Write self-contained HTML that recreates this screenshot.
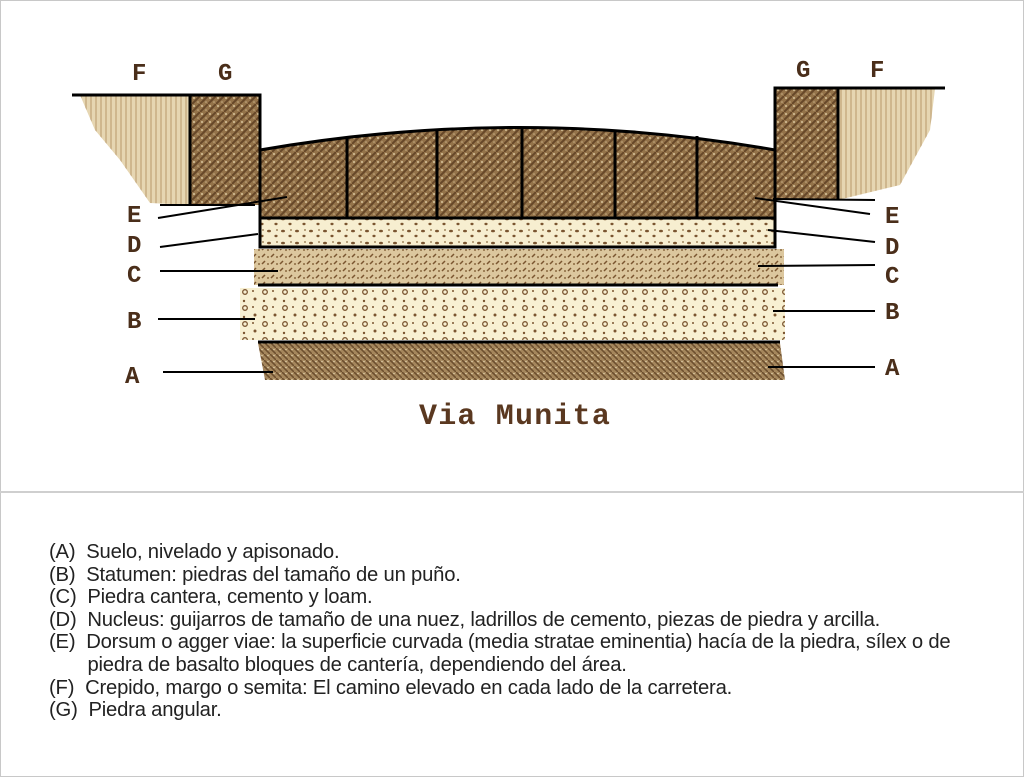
<!DOCTYPE html>
<html><head><meta charset="utf-8"><style>
body{margin:0;background:#fff;}
.wrap{position:relative;width:1024px;height:777px;overflow:hidden;background:#fff;}
.frame{position:absolute;left:0;top:0;width:1022px;height:775px;border:1px solid #c8c8c8;}
.div{position:absolute;left:0;top:491px;width:1024px;height:2px;background:#cfcfcf;}
.txt{position:absolute;left:49px;top:541px;font-family:"Liberation Sans",sans-serif;font-size:20px;color:#222;line-height:22.6px;transform:scaleX(1.012);transform-origin:0 0;white-space:nowrap;letter-spacing:-0.2px;}
</style></head><body><div class="wrap">
<svg width="1024" height="490" style="position:absolute;left:0;top:0" xmlns="http://www.w3.org/2000/svg">
<defs>
<pattern id="dark" width="8" height="8" patternUnits="userSpaceOnUse">
<rect width="8" height="8" fill="#94734a"/>
<path d="M0 8 L8 0" stroke="#664729" stroke-width="2"/>
<circle cx="2" cy="2" r="1" fill="#d8c49c"/>
<circle cx="6" cy="6" r="0.8" fill="#c8b088"/>
</pattern>
<pattern id="fpat" width="5" height="6" patternUnits="userSpaceOnUse">
<rect width="5" height="6" fill="#e6d6b2"/>
<path d="M1 0 V6" stroke="#b8986a" stroke-width="1"/>
</pattern>
<pattern id="dots" width="14" height="12" patternUnits="userSpaceOnUse">
<rect width="14" height="12" fill="#f7eed0"/>
<ellipse cx="3" cy="3" rx="2" ry="1.3" fill="#7a5530"/>
<ellipse cx="10" cy="8" rx="1.6" ry="1.2" fill="#7a5530"/>
<circle cx="11" cy="2" r="0.9" fill="#8a6a40"/>
</pattern>
<pattern id="bdots" width="20" height="16" patternUnits="userSpaceOnUse">
<rect width="20" height="16" fill="#f8f0d2"/>
<circle cx="5" cy="4" r="2.3" fill="none" stroke="#7a5530" stroke-width="1.3"/>
<circle cx="15" cy="11" r="1.5" fill="#7a5530"/>
<circle cx="13" cy="3" r="1" fill="#7a5530"/>
<circle cx="4" cy="13" r="1.2" fill="#7a5530"/>
</pattern>
<pattern id="cpat" width="9" height="7" patternUnits="userSpaceOnUse">
<rect width="9" height="7" fill="#dcc79e"/>
<path d="M1 5 L4 2" stroke="#7a5530" stroke-width="1.5"/>
<circle cx="7" cy="5" r="1" fill="#8a6a40"/>
</pattern>
<pattern id="apat" width="6" height="6" patternUnits="userSpaceOnUse">
<rect width="6" height="6" fill="#a5865c"/>
<path d="M0 0 L6 6" stroke="#6d4f2f" stroke-width="1.6"/>
<circle cx="4" cy="1.5" r="0.8" fill="#e0cfaa"/>
</pattern>
</defs>
<path d="M80 95 L190 95 L190 205 L150 203 L120 160 L95 130 Z" fill="url(#fpat)"/>
<rect x="190" y="95" width="70" height="110" fill="url(#dark)"/>
<path d="M838 89 L935 89 L930 130 L900 185 L838 200 Z" fill="url(#fpat)"/>
<rect x="775" y="89" width="63" height="111" fill="url(#dark)"/>
<path d="M260 150 Q520 105 775 150 L775 218 L260 218 Z" fill="url(#dark)"/>
<rect x="260" y="219" width="515" height="28" fill="url(#dots)"/>
<rect x="254" y="249" width="530" height="36" fill="url(#cpat)"/>
<rect x="240" y="288" width="545" height="52" fill="url(#bdots)"/>
<path d="M258 343 L780 343 L785 380 L265 380 Z" fill="url(#apat)"/>
<g stroke="#000" stroke-width="3" fill="none">
<path d="M72 95 H260 V218"/>
<path d="M190 95 V205"/>
<path d="M775 218 V88 H945"/>
<path d="M838 88 V200"/>
<path d="M260 150 Q520 105 775 150"/>
<path d="M260 218 H775"/>
<path d="M260 218 V247 H775 V218"/>
<path d="M347 138 V218 M437 131 V218 M522 128 V218 M615 130 V218 M697 136 V218"/>
<path d="M258 285 H778"/>
<path d="M258 342 H780"/>
</g>
<g stroke="#000" stroke-width="2" fill="none">
<path d="M160 205 H255"/>
<path d="M158 218 L287 197"/>
<path d="M160 247 L258 234"/>
<path d="M160 271 H278"/>
<path d="M158 319 H255"/>
<path d="M163 372 H273"/>
<path d="M773 199 L875 200"/>
<path d="M755 198 L870 214"/>
<path d="M768 230 L875 242"/>
<path d="M758 266 L875 265"/>
<path d="M773 311 L875 311"/>
<path d="M768 367 L875 367"/>
</g>
<g font-family="Liberation Mono,monospace" font-weight="bold" font-size="24" fill="#4a2e1a">
<text x="132" y="80">F</text><text x="218" y="80">G</text>
<text x="796" y="77">G</text><text x="870" y="77">F</text>
<text x="127" y="222">E</text><text x="127" y="252">D</text><text x="127" y="282">C</text><text x="127" y="328">B</text><text x="125" y="383">A</text>
<text x="885" y="223">E</text><text x="885" y="254">D</text><text x="885" y="283">C</text><text x="885" y="319">B</text><text x="885" y="375">A</text>
<text x="419" y="424" font-size="30" letter-spacing="1.2" fill="#5a3820">Via Munita</text>
</g>
</svg>
<div class="frame"></div>
<div class="div"></div>
<div class="txt">
<div>(A)&nbsp; Suelo, nivelado y apisonado.</div>
<div>(B)&nbsp; Statumen: piedras del tamaño de un puño.</div>
<div>(C)&nbsp; Piedra cantera, cemento y loam.</div>
<div>(D)&nbsp; Nucleus: guijarros de tamaño de una nuez, ladrillos de cemento, piezas de piedra y arcilla.</div>
<div>(E)&nbsp; Dorsum o agger viae: la superficie curvada (media stratae eminentia) hacía de la piedra, sílex o de</div>
<div style="padding-left:38px">piedra de basalto bloques de cantería, dependiendo del área.</div>
<div>(F)&nbsp; Crepido, margo o semita: El camino elevado en cada lado de la carretera.</div>
<div>(G)&nbsp; Piedra angular.</div>
</div>
</div></body></html>
